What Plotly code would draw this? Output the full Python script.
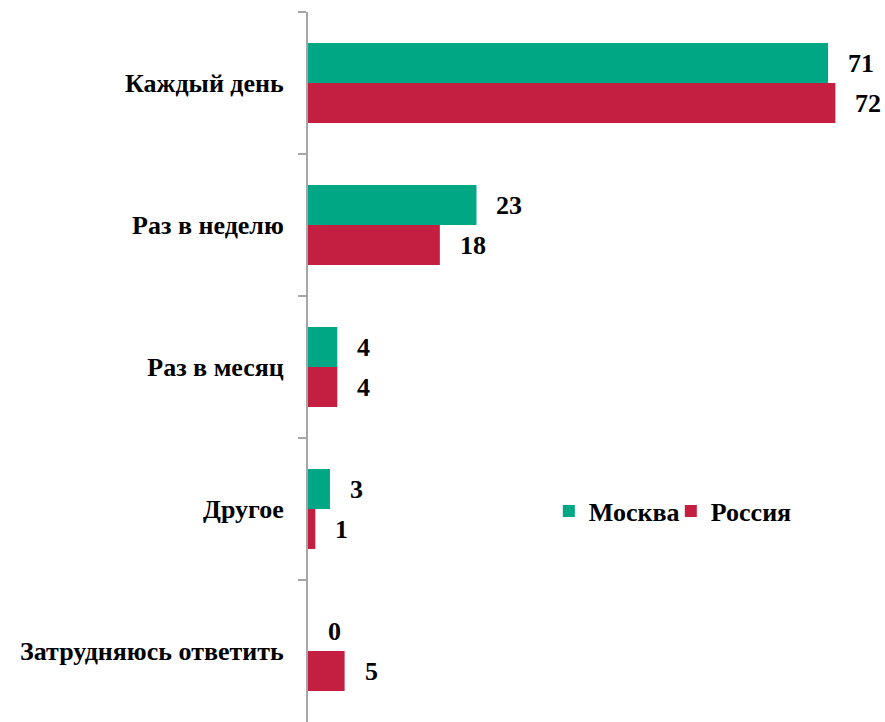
import plotly.graph_objects as go

categories = ["Каждый день", "Раз в неделю", "Раз в месяц", "Другое", "Затрудняюсь ответить"]
moscow = [71, 23, 4, 3, 0]
russia = [72, 18, 4, 1, 5]
series_names = ["Москва", "Россия"]
colors = ["#00A785", "#C41F41"]

FONT = "Liberation Serif"
FS = 26

fig = go.Figure()
for name, vals, col in zip(series_names, [moscow, russia], colors):
    fig.add_trace(go.Bar(
        y=categories, x=vals, name=name, orientation="h",
        marker=dict(color=col, line=dict(width=0)),
    ))

# data labels
annotations = []
for idx, vals in enumerate([moscow, russia]):
    for i, v in enumerate(vals):
        annotations.append(dict(
            x=v, y=categories[i], xref="x", yref="y",
            text="<b>%d</b>" % v, showarrow=False,
            xanchor="left", xshift=18,
            yshift=20 if idx == 0 else -20,
            font=dict(family=FONT, size=FS, color="#000000"),
        ))

fig.update_layout(
    width=885, height=722,
    margin=dict(l=308, r=13, t=12, b=0),
    paper_bgcolor="white", plot_bgcolor="white",
    barmode="group", bargap=0.437, bargroupgap=0,
    showlegend=True,
    legend=dict(
        orientation="h", x=0.427, y=0.297, xanchor="left", yanchor="middle",
        font=dict(family=FONT, size=FS, color="#000000", weight="bold"),
        itemwidth=30, entrywidth=77, traceorder="normal", bgcolor="rgba(0,0,0,0)",
    ),
    annotations=annotations,
    font=dict(family=FONT, size=FS, color="#000000"),
)
fig.update_xaxes(range=[0, 77], visible=False, showgrid=False, zeroline=False)
fig.update_yaxes(
    autorange="reversed", showline=True, linecolor="#A6A6A6", linewidth=2,
    ticks="outside", tickson="boundaries", ticklen=8, tickcolor="#A6A6A6", tickwidth=2,
    showgrid=False, zeroline=False, ticklabelstandoff=17,
    tickfont=dict(family=FONT, size=FS, color="#000000", weight="bold"),
)
fig.write_html("out.html", config={"displayModeBar": False},
               post_script="document.body.style.margin='0';document.body.style.overflow='hidden';")
